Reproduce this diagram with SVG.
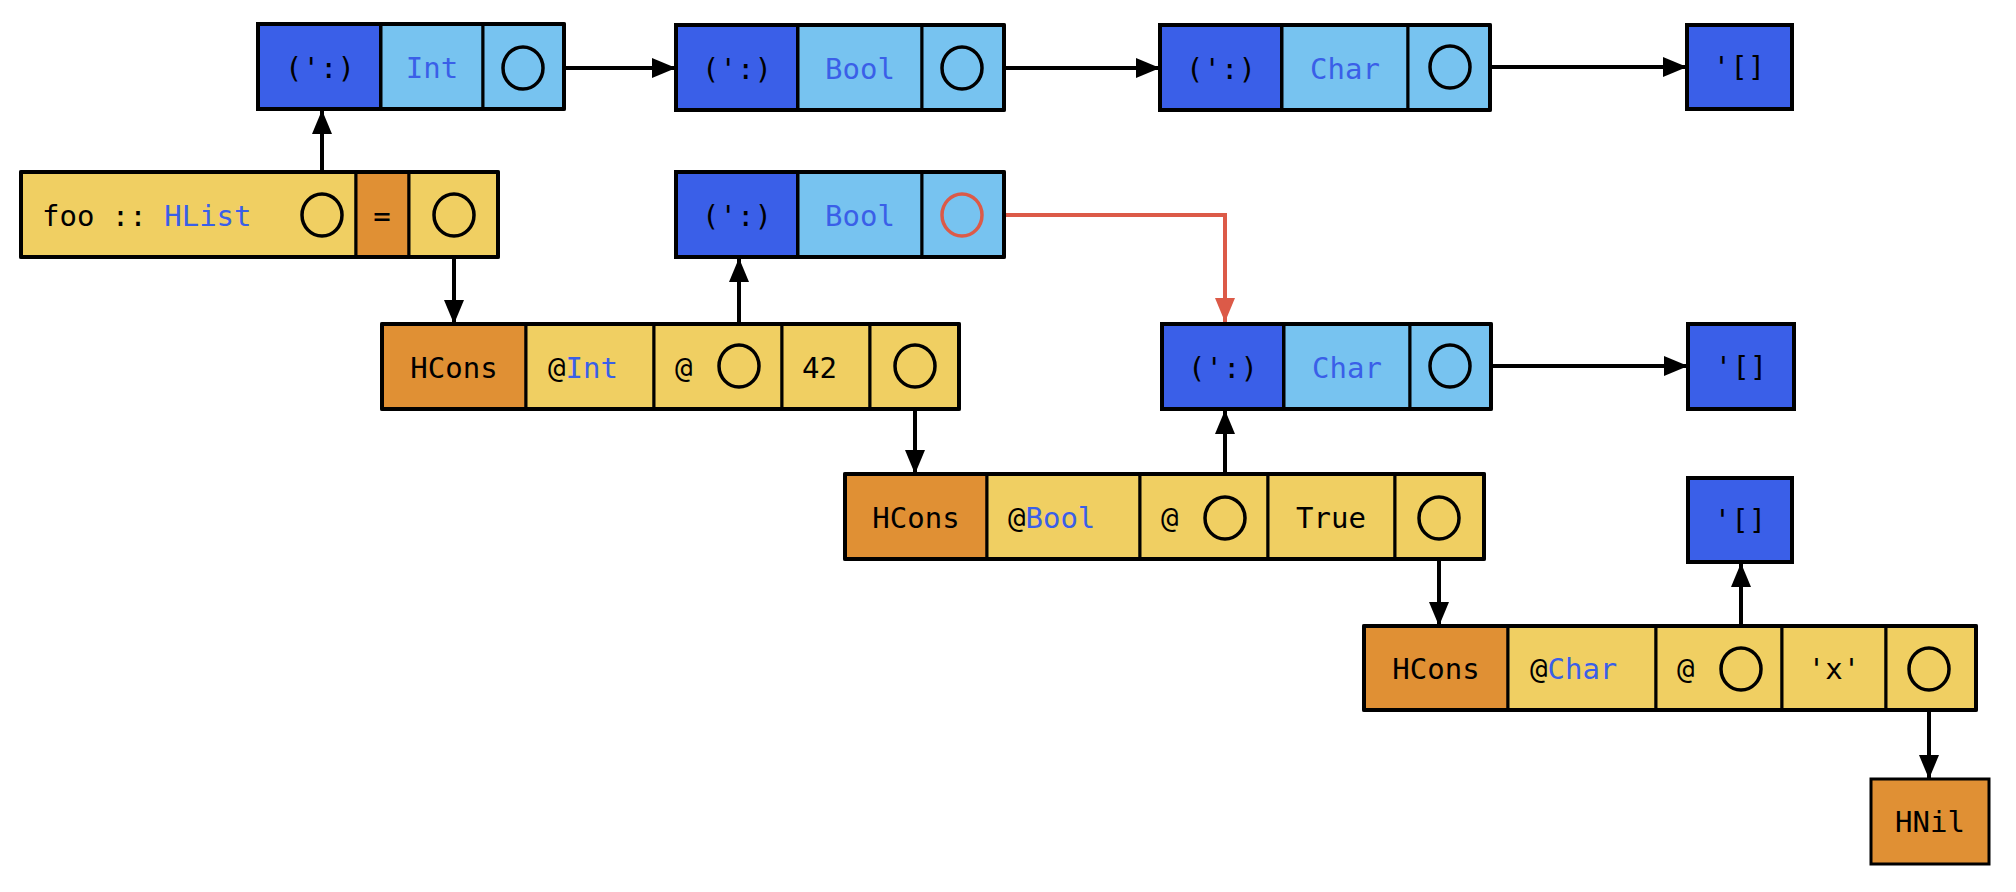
<svg xmlns="http://www.w3.org/2000/svg" width="2016" height="892" viewBox="0 0 2016 892">
<defs>
<style>
.db{fill:#3a5fe8;stroke:#000;stroke-width:4}
.lb{fill:#77c3f0;stroke:#000;stroke-width:3}
.y{fill:#f0cf62;stroke:#000;stroke-width:3}
.o{fill:#e09034;stroke:#000;stroke-width:3}
.c{fill:none;stroke:#000;stroke-width:3.5}
.cr{fill:none;stroke:#dc5a48;stroke-width:3.5}
text{font-family:"DejaVu Sans Mono","Liberation Mono",monospace;font-size:29px;fill:#000;dominant-baseline:central}
.t{text-anchor:middle}
.bl{fill:#3a5fe8}
.e{fill:none;stroke:#000;stroke-width:4;stroke-linejoin:round}
.con{fill:none;stroke:#000;stroke-width:4}
.red{fill:none;stroke:#dc5a48;stroke-width:4}
</style>
<marker id="ah" markerUnits="userSpaceOnUse" markerWidth="24" markerHeight="20" refX="24" refY="10" orient="auto"><path d="M0,0L24,10L0,20z" fill="#000"/></marker>
<marker id="ahr" markerUnits="userSpaceOnUse" markerWidth="24" markerHeight="20" refX="24" refY="10" orient="auto"><path d="M0,0L24,10L0,20z" fill="#dc5a48"/></marker>
</defs>
<g id="connectors">
<line class="con" x1="543" y1="68" x2="676" y2="68" marker-end="url(#ah)"/>
<line class="con" x1="982" y1="68" x2="1160" y2="68" marker-end="url(#ah)"/>
<line class="con" x1="1470" y1="67" x2="1687" y2="67" marker-end="url(#ah)"/>
<line class="con" x1="1470" y1="366" x2="1688" y2="366" marker-end="url(#ah)"/>
<line class="con" x1="322" y1="194" x2="322" y2="110" marker-end="url(#ah)"/>
<line class="con" x1="454" y1="236" x2="454" y2="324" marker-end="url(#ah)"/>
<line class="con" x1="739" y1="345" x2="739" y2="258" marker-end="url(#ah)"/>
<line class="con" x1="915" y1="387" x2="915" y2="474" marker-end="url(#ah)"/>
<line class="con" x1="1225" y1="497" x2="1225" y2="410" marker-end="url(#ah)"/>
<line class="con" x1="1439" y1="539" x2="1439" y2="626" marker-end="url(#ah)"/>
<line class="con" x1="1741" y1="648" x2="1741" y2="563" marker-end="url(#ah)"/>
<line class="con" x1="1929" y1="690" x2="1929" y2="779" marker-end="url(#ah)"/>
<polyline class="red" points="982,215 1225,215 1225,322" marker-end="url(#ahr)"/>
</g>
<g id="cons1">
<rect class="db" x="258" y="24" width="123" height="85"/><rect class="lb" x="381" y="24" width="102" height="85"/><rect class="lb" x="483" y="24" width="81" height="85"/>
<rect class="e" x="258" y="24" width="306" height="85"/>
<text class="t" x="320" y="68">(':)</text><text class="t bl" x="432" y="68">Int</text>
<ellipse class="c" cx="523" cy="68" rx="20" ry="21"/>
</g>
<g id="cons2">
<rect class="db" x="676" y="25" width="122" height="85"/><rect class="lb" x="798" y="25" width="124" height="85"/><rect class="lb" x="922" y="25" width="82" height="85"/>
<rect class="e" x="676" y="25" width="328" height="85"/>
<text class="t" x="737" y="69">(':)</text><text class="t bl" x="860" y="69">Bool</text>
<ellipse class="c" cx="962" cy="68" rx="20" ry="21"/>
</g>
<g id="cons3">
<rect class="db" x="1160" y="25" width="122" height="85"/><rect class="lb" x="1282" y="25" width="126" height="85"/><rect class="lb" x="1408" y="25" width="82" height="85"/>
<rect class="e" x="1160" y="25" width="330" height="85"/>
<text class="t" x="1221" y="69">(':)</text><text class="t bl" x="1345" y="69">Char</text>
<ellipse class="c" cx="1450" cy="67" rx="20" ry="21"/>
</g>
<g id="nil1"><rect class="db" x="1687" y="25" width="105" height="84"/><text class="t" x="1739" y="67">'[]</text></g>
<g id="foo">
<rect class="y" x="21" y="172" width="335" height="85"/><rect class="o" x="356" y="172" width="53" height="85"/><rect class="y" x="409" y="172" width="89" height="85"/>
<rect class="e" x="21" y="172" width="477" height="85"/>
<text x="42" y="216">foo :: <tspan class="bl">HList</tspan></text>
<text class="t" x="382" y="216">=</text>
<ellipse class="c" cx="322" cy="215" rx="20" ry="21"/>
<ellipse class="c" cx="454" cy="215" rx="20" ry="21"/>
</g>
<g id="cons4">
<rect class="db" x="676" y="172" width="122" height="85"/><rect class="lb" x="798" y="172" width="124" height="85"/><rect class="lb" x="922" y="172" width="82" height="85"/>
<rect class="e" x="676" y="172" width="328" height="85"/>
<text class="t" x="737" y="216">(':)</text><text class="t bl" x="860" y="216">Bool</text>
<ellipse class="cr" cx="962" cy="215" rx="20" ry="21"/>
</g>
<g id="hcons1">
<rect class="o" x="382" y="324" width="144" height="85"/><rect class="y" x="526" y="324" width="128" height="85"/><rect class="y" x="654" y="324" width="128" height="85"/><rect class="y" x="782" y="324" width="88" height="85"/><rect class="y" x="870" y="324" width="89" height="85"/>
<rect class="e" x="382" y="324" width="577" height="85"/>
<text class="t" x="454" y="368">HCons</text>
<text x="548" y="368">@<tspan class="bl">Int</tspan></text>
<text x="675" y="368">@</text>
<text x="802" y="368">42</text>
<ellipse class="c" cx="739" cy="366" rx="20" ry="21"/>
<ellipse class="c" cx="915" cy="366" rx="20" ry="21"/>
</g>
<g id="cons5">
<rect class="db" x="1162" y="324" width="122" height="85"/><rect class="lb" x="1284" y="324" width="126" height="85"/><rect class="lb" x="1410" y="324" width="81" height="85"/>
<rect class="e" x="1162" y="324" width="329" height="85"/>
<text class="t" x="1223" y="368">(':)</text><text class="t bl" x="1347" y="368">Char</text>
<ellipse class="c" cx="1450" cy="366" rx="20" ry="21"/>
</g>
<g id="nil2"><rect class="db" x="1688" y="324" width="106" height="85"/><text class="t" x="1741" y="367">'[]</text></g>
<g id="hcons2">
<rect class="o" x="845" y="474" width="142" height="85"/><rect class="y" x="987" y="474" width="153" height="85"/><rect class="y" x="1140" y="474" width="128" height="85"/><rect class="y" x="1268" y="474" width="127" height="85"/><rect class="y" x="1395" y="474" width="89" height="85"/>
<rect class="e" x="845" y="474" width="639" height="85"/>
<text class="t" x="916" y="518">HCons</text>
<text x="1008" y="518">@<tspan class="bl">Bool</tspan></text>
<text x="1161" y="518">@</text>
<text class="t" x="1331" y="518">True</text>
<ellipse class="c" cx="1225" cy="518" rx="20" ry="21"/>
<ellipse class="c" cx="1439" cy="518" rx="20" ry="21"/>
</g>
<g id="nil3"><rect class="db" x="1688" y="478" width="104" height="84"/><text class="t" x="1740" y="520">'[]</text></g>
<g id="hcons3">
<rect class="o" x="1364" y="626" width="144" height="84"/><rect class="y" x="1508" y="626" width="148" height="84"/><rect class="y" x="1656" y="626" width="126" height="84"/><rect class="y" x="1782" y="626" width="104" height="84"/><rect class="y" x="1886" y="626" width="90" height="84"/>
<rect class="e" x="1364" y="626" width="612" height="84"/>
<text class="t" x="1436" y="669">HCons</text>
<text x="1530" y="669">@<tspan class="bl">Char</tspan></text>
<text x="1677" y="669">@</text>
<text class="t" x="1834" y="669">'x'</text>
<ellipse class="c" cx="1741" cy="669" rx="20" ry="21"/>
<ellipse class="c" cx="1929" cy="669" rx="20" ry="21"/>
</g>
<g id="hnil"><rect class="o" x="1871" y="779" width="118" height="85" stroke-width="4"/><text class="t" x="1930" y="822">HNil</text></g>
</svg>
